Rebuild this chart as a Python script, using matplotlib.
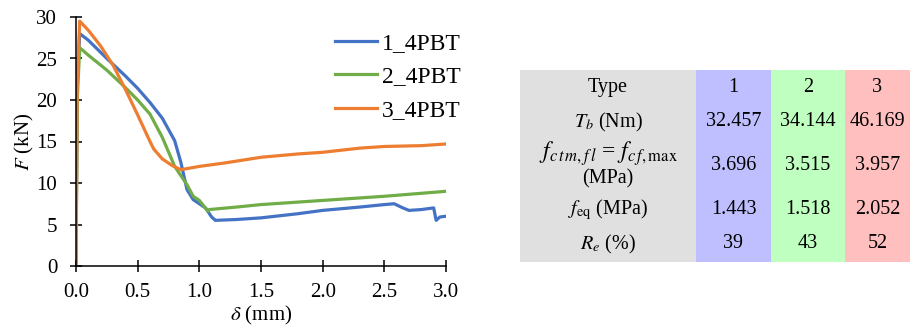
import matplotlib.pyplot as plt

plt.rcParams['font.family'] = ['Liberation Serif', 'DejaVu Serif']
plt.rcParams['mathtext.fontset'] = 'stix'

# ---------------- CURVE DATA ----------------
d1 = [0.0, 0.01, 0.03, 0.1, 0.25, 0.4, 0.5, 0.6, 0.7, 0.8, 0.85, 0.9, 0.95, 1.0, 1.05, 1.1, 1.13,
      1.3, 1.5, 1.8, 2.0, 2.3, 2.5, 2.58, 2.65, 2.7, 2.8, 2.9, 2.92, 2.95, 3.0]
f1 = [0.0, 22.0, 28.0, 27.2, 25.0, 22.9, 21.4, 19.7, 17.8, 15.1, 12.5, 9.2, 8.0, 7.5, 7.0, 5.9, 5.5,
      5.6, 5.8, 6.3, 6.7, 7.1, 7.4, 7.5, 7.0, 6.7, 6.8, 7.0, 5.5, 5.9, 6.0]

d2 = [0.0, 0.01, 0.03, 0.1, 0.25, 0.4, 0.5, 0.6, 0.7, 0.8, 0.9, 0.95, 1.0, 1.07, 1.08, 1.3, 1.5,
      2.0, 2.5, 3.0]
f2 = [0.0, 20.0, 26.3, 25.4, 23.6, 21.5, 20.0, 18.3, 15.5, 12.0, 9.8, 8.4, 7.9, 6.6, 6.8, 7.1, 7.4,
      7.9, 8.4, 9.0]

d3 = [0.0, 0.01, 0.03, 0.1, 0.2, 0.3, 0.4, 0.5, 0.6, 0.63, 0.7, 0.78, 0.85, 1.0, 1.2, 1.5, 1.8,
      2.0, 2.3, 2.5, 2.8, 3.0]
f3 = [0.0, 22.0, 29.5, 28.4, 26.5, 24.2, 21.3, 18.2, 15.0, 14.1, 12.9, 12.1, 11.6, 12.0, 12.4,
      13.1, 13.5, 13.7, 14.2, 14.4, 14.5, 14.7]

labels = ["1_4PBT", "2_4PBT", "3_4PBT"]
colors = ["#4472C4", "#70AD47", "#ED7D31"]

# ---------------- TABLE DATA ----------------
row_names = ["Type", r"$T_b$ (Nm)",
             "$f_{c\\,t\\,m,f\\,l}$ = $f_{c\\,f,\\mathrm{max}}$\n(MPa)",
             r"$f_{\mathrm{eq}}$ (MPa)", r"$R_e$ (%)"]
col_values = [
    ["1", "32.457", "3.696", "1.443", "39"],
    ["2", "34.144", "3.515", "1.518", "43"],
    ["3", "46.169", "3.957", "2.052", "52"],
]
col_fill = ["#bfbfff", "#bfffbf", "#ffbfbf"]

fig = plt.figure(figsize=(9.11, 3.25), dpi=100)

# ---------------- CHART ----------------
ax = fig.add_axes([76 / 911, 1 - 266 / 325, 370 / 911, 249 / 325])
for d, f, lab, c in zip([d1, d2, d3], [f1, f2, f3], labels, colors):
    ax.plot(d, f, color=c, lw=2.3, label=lab)

ax.set_xlim(0, 3.0)
ax.set_ylim(0, 30)
ax.set_xticks([0.0, 0.5, 1.0, 1.5, 2.0, 2.5, 3.0])
ax.set_xticklabels(["0.0", "0.5", "1.0", "1.5", "2.0", "2.5", "3.0"])
ax.set_yticks(range(0, 31, 5))
for s in ["top", "right"]:
    ax.spines[s].set_visible(False)
for s in ["left", "bottom"]:
    ax.spines[s].set_linewidth(1.1)
ax.tick_params(direction="inout", length=9, width=1.1, labelsize=15)
ax.tick_params(axis="x", pad=8)
ax.tick_params(axis="y", pad=9)
ax.set_xlabel(r"$\delta$ (mm)", fontsize=15, labelpad=1)
ax.set_ylabel(r"$F$ (kN)", fontsize=15, labelpad=0)

ax.legend(loc="upper right", bbox_to_anchor=(1.065, 0.975), frameon=False, fontsize=17,
          handlelength=1.8, handletextpad=0.2, labelspacing=0.5, borderaxespad=0)

# ---------------- TABLE ----------------
tax = fig.add_axes([520 / 911, 1 - 262 / 325, 390 / 911, 192 / 325])
tax.set_xlim(0, 390)
tax.set_ylim(192, 0)
tax.axis("off")

col_edges = [0, 176, 251, 325, 390]
row_edges = [0, 35, 69, 123, 156, 192]

tax.axvspan(col_edges[0], col_edges[1], color="#e0e0e0", lw=0)
for i, fc in enumerate(col_fill):
    tax.axvspan(col_edges[i + 1], col_edges[i + 2], color=fc, lw=0)

xc_name = (col_edges[0] + col_edges[1]) / 2
for r, name in enumerate(row_names):
    yc = (row_edges[r] + row_edges[r + 1]) / 2
    if "\n" in name:
        top, bottom = name.split("\n")
        tax.text(xc_name, yc - 12, top, ha="center", va="center", fontsize=17)
        tax.text(xc_name, yc + 13, bottom, ha="center", va="center", fontsize=14.5)
    else:
        tax.text(xc_name, yc, name, ha="center", va="center", fontsize=14.5)
    for i, vals in enumerate(col_values):
        tax.text((col_edges[i + 1] + col_edges[i + 2]) / 2, yc, vals[r], ha="center",
                 va="center", fontsize=14.5)

fig.savefig("out.png", dpi=100)
